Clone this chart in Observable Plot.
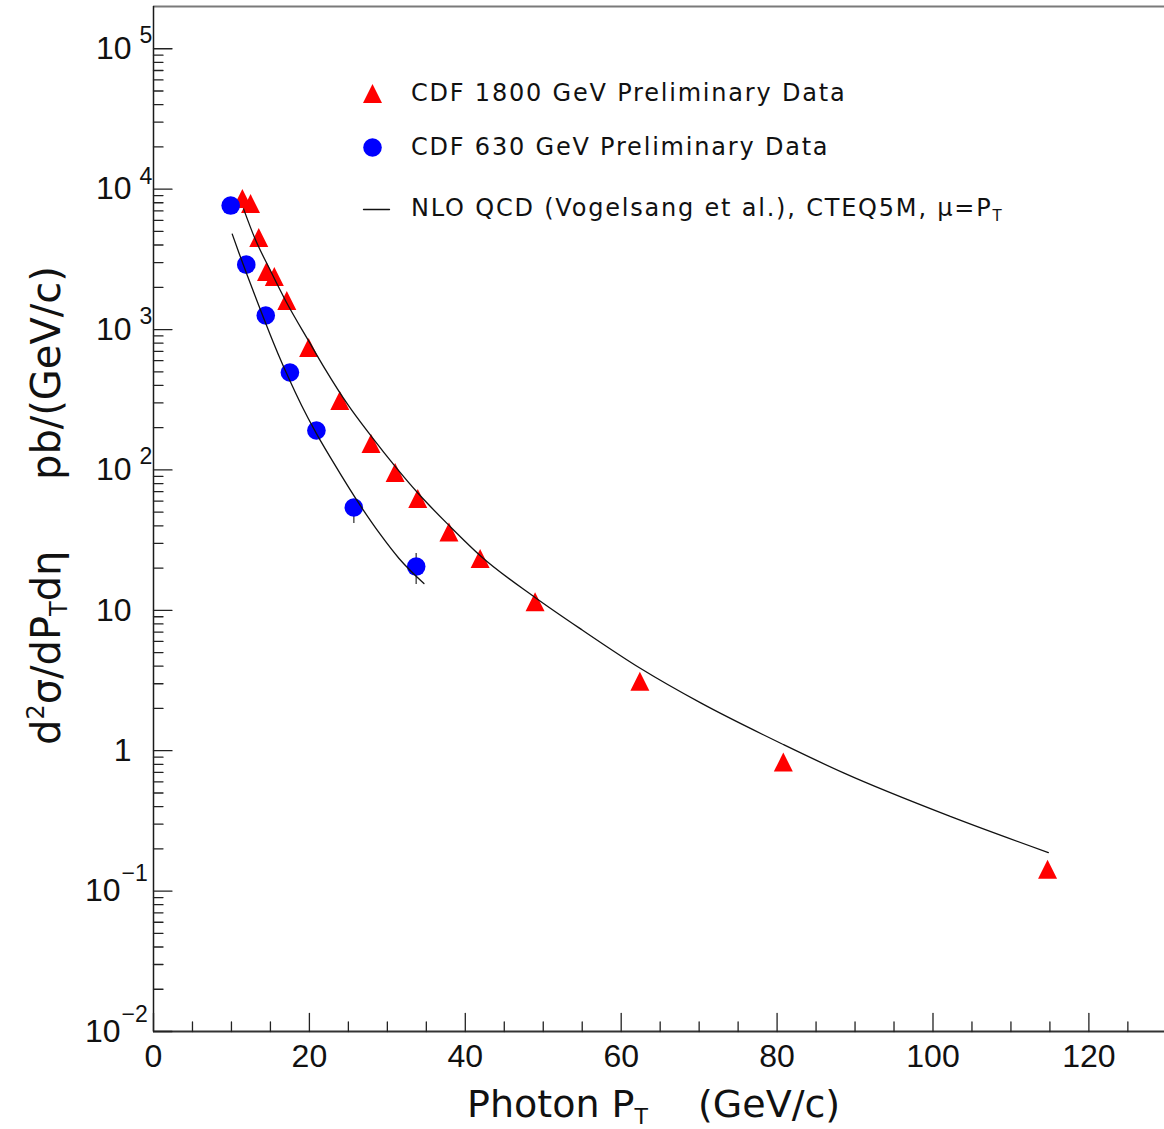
<!DOCTYPE html>
<html>
<head>
<meta charset="utf-8">
<script src="https://cdn.jsdelivr.net/npm/d3@7"></script>
<script src="https://cdn.jsdelivr.net/npm/@observablehq/plot@0.6"></script>
<style>
  html, body { margin: 0; padding: 0; background: #fff; }
  #chart svg { display: block; }
</style>
</head>
<body>
<div id="chart"></div>
<script>
// CDF isolated-photon cross sections, 1800 GeV (triangles) and 630 GeV (circles)
const pt1800 = [11.4, 12.45, 13.5, 14.5, 15.5, 17.1, 19.9, 23.9, 27.9, 31.0, 33.9, 37.9, 41.9, 48.95, 62.4, 80.8, 114.7];
const xs1800 = [8570, 7890, 4520, 2590, 2390, 1610, 745, 312, 154, 95.7, 62.5, 36.2, 23.4, 11.5, 3.13, 0.83, 0.143];

const pt630 = [9.9, 11.9, 14.4, 17.5, 20.9, 25.7, 33.7];
const xs630 = [7640, 2900, 1260, 494, 191, 54, 20.5];
// error bars (only those reaching outside the markers)
const errPt630 = [25.7, 33.7];
const errLo630 = [41.5, 15.3];
const errHi630 = [60.5, 25.4];

// NLO QCD (Vogelsang et al.), CTEQ5M, mu = pT
const nloPt1800 = [11.55, 13, 15, 17, 20, 22, 25, 28, 31, 34, 38, 42, 49, 55, 62.5, 70.2, 80.9, 88.6, 102.3, 114.8];
const nloXs1800 = [7244, 4467, 2630, 1585, 813, 525, 288, 172, 106, 67.6, 39.8, 24.3, 12.3, 7.24, 3.85, 2.19, 1.10, 0.692, 0.339, 0.188];
const nloPt630 = [10.1, 11, 12, 13, 14, 15, 16, 17.3, 19, 20.8, 23, 26.6, 29.1, 31.5, 34.7];
const nloXs630 = [4786, 3467, 2455, 1758, 1259, 912, 668, 457, 288, 186, 115, 55, 34.7, 23.4, 15.5];

// axis ticks and labels
const xDomain = [0, 129.7];
const yDomain = [1e-2, 2e5];
const xMajor = [0, 20, 40, 60, 80, 100, 120];
const xMinor = [5, 10, 15, 25, 30, 35, 45, 50, 55, 65, 70, 75, 85, 90, 95, 105, 110, 115, 125];
const yMajor = [1e-2, 1e-1, 1, 10, 1e2, 1e3, 1e4, 1e5];
const yBase = ["10", "10", "1", "10", "10", "10", "10", "10"];
const yExp = ["\u22122", "\u22121", "", "", "2", "3", "4", "5"];
const yMinor = [];
for (let e = -2; e <= 4; e++) for (let m = 2; m <= 9; m++) yMinor.push(m * Math.pow(10, e));

const legendLabels = ["CDF 1800 GeV Preliminary Data", "CDF 630 GeV Preliminary Data"];

const RED = "#ff0000", BLUE = "#0000ff";

// table rows built from the arrays
const pts1800 = pt1800.map((x, i) => ({x, y: xs1800[i]}));
const pts630 = pt630.map((x, i) => ({x, y: xs630[i]}));
const errs630 = errPt630.map((x, i) => ({x, lo: errLo630[i], hi: errHi630[i]}));
const nlo1800 = nloPt1800.map((x, i) => ({x, y: nloXs1800[i]}));
const nlo630 = nloPt630.map((x, i) => ({x, y: nloXs630[i]}));
const yLabels = yMajor.map((v, i) => ({v, base: yBase[i], exp: yExp[i]}));
const isNeg = d => d.exp.startsWith("\u2212");

// upward-pointing triangle marker
const triangle = {
  draw(ctx, size) {
    const r = Math.sqrt(size / Math.PI);
    ctx.moveTo(0, -r);
    ctx.lineTo(r, r);
    ctx.lineTo(-r, r);
    ctx.closePath();
  }
};
// plain stroke used for inward tick marks and the legend line sample
const stroke = {
  draw(ctx, l) { ctx.moveTo(0, 0); ctx.lineTo(0, -l); }
};

const chart = Plot.plot({
  width: 1164,
  height: 1129,
  marginLeft: 153,
  marginRight: 0,
  marginTop: 6,
  marginBottom: 98,
  x: {domain: xDomain, axis: null},
  y: {type: "log", domain: yDomain, axis: null},
  style: {background: "#fff", fontFamily: "Liberation Sans, Arial, sans-serif"},
  marks: [
    // frame
    Plot.ruleY([yDomain[1]], {stroke: "#7a7a7a", strokeWidth: 2}),
    Plot.ruleX([xDomain[0]], {stroke: "#1a1a1a", strokeWidth: 1.5}),
    Plot.ruleY([yDomain[0]], {stroke: "#333", strokeWidth: 2}),
    // inward ticks
    Plot.vector(xMajor, {x: d => d, frameAnchor: "bottom", length: 18, rotate: 0, anchor: "start", shape: stroke, stroke: "#222", strokeWidth: 1.3}),
    Plot.vector(xMinor, {x: d => d, frameAnchor: "bottom", length: 9.5, rotate: 0, anchor: "start", shape: stroke, stroke: "#222", strokeWidth: 1.3}),
    Plot.vector(yMajor, {y: d => d, frameAnchor: "left", length: 18.5, rotate: 90, anchor: "start", shape: stroke, stroke: "#222", strokeWidth: 1.3}),
    Plot.vector(yMinor, {y: d => d, frameAnchor: "left", length: 9.5, rotate: 90, anchor: "start", shape: stroke, stroke: "#222", strokeWidth: 1.3}),
    // tick labels
    Plot.text(xMajor, {x: d => d, text: d => String(d), frameAnchor: "bottom", dy: 35, lineAnchor: "bottom", fontSize: 32, fill: "#111"}),
    Plot.text(yLabels.filter(d => !isNeg(d)), {y: "v", text: "base", frameAnchor: "left", textAnchor: "end", lineAnchor: "middle", dx: -22, fontSize: 32, fill: "#111"}),
    Plot.text(yLabels.filter(d => d.exp && !isNeg(d)), {y: "v", text: "exp", frameAnchor: "left", textAnchor: "start", lineAnchor: "middle", dx: -14, dy: -13, fontSize: 23, fill: "#111"}),
    Plot.text(yLabels.filter(isNeg), {y: "v", text: "base", frameAnchor: "left", textAnchor: "end", lineAnchor: "middle", dx: -33, fontSize: 32, fill: "#111"}),
    Plot.text(yLabels.filter(isNeg), {y: "v", text: "exp", frameAnchor: "left", textAnchor: "start", lineAnchor: "middle", dx: -32, dy: -17, fontSize: 23, fill: "#111"}),
    // error bars
    Plot.ruleX(errs630, {x: "x", y1: "lo", y2: "hi", stroke: "#555", strokeWidth: 1.5}),
    // data
    Plot.dot(pts1800, {x: "x", y: "y", symbol: triangle, r: 9.5, fill: RED, stroke: "none"}),
    Plot.dot(pts630, {x: "x", y: "y", symbol: "circle", r: 9.3, fill: BLUE, stroke: "none"}),
    // theory curves
    Plot.line(nlo1800, {x: "x", y: "y", curve: "monotone-x", stroke: "#111", strokeWidth: 1.3}),
    Plot.line(nlo630, {x: "x", y: "y", curve: "monotone-x", stroke: "#111", strokeWidth: 1.3}),
    // legend samples
    Plot.dot([legendLabels[0]], {frameAnchor: "top-left", dx: 219, dy: 87, symbol: triangle, r: 9.5, fill: RED, stroke: "none"}),
    Plot.dot([legendLabels[1]], {frameAnchor: "top-left", dx: 219, dy: 141, symbol: "circle", r: 9.3, fill: BLUE, stroke: "none"}),
    Plot.vector(["NLO"], {frameAnchor: "top-left", dx: 210, dy: 203, length: 26, rotate: 90, anchor: "start", shape: stroke, stroke: "#111", strokeWidth: 1.3})
  ]
});

document.getElementById("chart").appendChild(chart);

// rich text (sub/superscripts) for legend entries and axis titles
const svg = d3.select(chart);
function richText(g, parts) {
  parts.forEach(p => {
    const ts = g.append("tspan").text(p.t);
    if (p.size) ts.attr("font-size", p.size);
    if (p.dy) ts.attr("dy", p.dy);
    if (p.x != null) ts.attr("x", p.x);
  });
  return g;
}

const titleFont = "DejaVu Sans, Verdana, sans-serif";
const legend = svg.append("g")
  .attr("font-family", titleFont)
  .attr("font-size", 24)
  .attr("letter-spacing", "1.8px")
  .attr("text-anchor", "start")
  .attr("fill", "#111");
legend.append("text").attr("x", 411).attr("y", 101).text(legendLabels[0]);
legend.append("text").attr("x", 411).attr("y", 155).text(legendLabels[1]);
richText(legend.append("text").attr("x", 411).attr("y", 216), [
  {t: "NLO QCD (Vogelsang et al.), CTEQ5M, \u03bc=P"},
  {t: "T", size: 15, dy: 5}
]);

// x title
richText(svg.append("text")
  .attr("x", 467).attr("y", 1117)
  .attr("text-anchor", "start")
  .attr("font-family", titleFont).attr("font-size", 38).attr("fill", "#111"), [
  {t: "Photon P"},
  {t: "T", size: 22, dy: 7},
  {t: "(GeV/c)", x: 698, dy: -7}
]);

// y title (rotated)
richText(svg.append("text")
  .attr("transform", "translate(60,745) rotate(-90)")
  .attr("text-anchor", "start")
  .attr("font-family", titleFont).attr("font-size", 40).attr("fill", "#111"), [
  {t: "d"},
  {t: "2", size: 24, dy: -16},
  {t: "\u03c3/dP", dy: 16},
  {t: "T", size: 24, dy: 7},
  {t: "d\u03b7", dy: -7},
  {t: "pb/(GeV/c)", x: 265}
]);
</script>
</body>
</html>
